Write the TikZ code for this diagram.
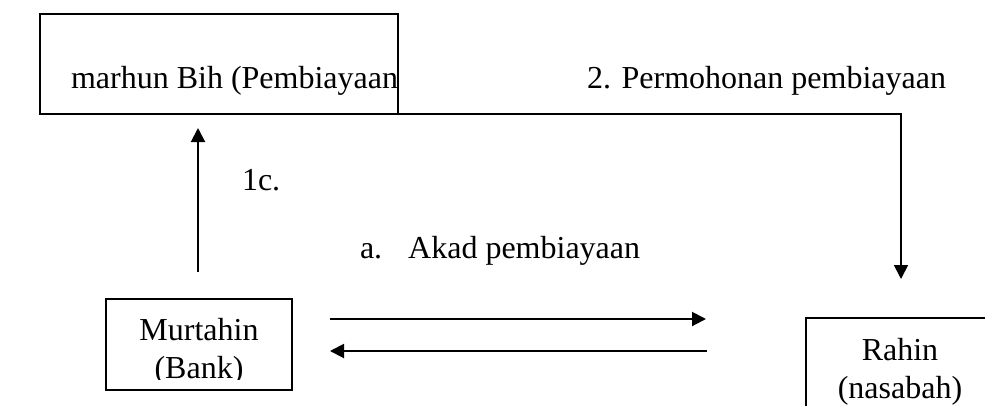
\documentclass[tikz,border=0pt]{standalone}
\usepackage{fontspec}
\setmainfont{Liberation Serif}
\usetikzlibrary{arrows.meta}
\begin{document}
\begin{tikzpicture}[x=0.75pt,y=-0.75pt,
  box/.style={draw, line width=1.5pt, inner sep=0pt, outer sep=0pt},
  txt/.style={inner sep=0pt, outer sep=0pt, font=\fontsize{24pt}{28.5pt}\selectfont},
  arr/.style={line width=1.5pt, -{Triangle[length=10.5pt,width=10.5pt]}},
  link/.style={line width=1.3pt, -{Triangle[length=10.5pt,width=10.5pt]}}]
\useasboundingbox (0,0) rectangle (985,405);
% boxes
\node[box, minimum width=268.5pt, minimum height=75pt] (bih) at (219,64) {};
\node[box, minimum width=139.5pt, minimum height=68.25pt] (mbox) at (199,344.5) {};
\node[box, minimum width=153pt, minimum height=91.5pt] (rbox) at (908,379) {};
% texts
\node[txt, anchor=base west] (bihtext) at (71,88) {marhun Bih (Pembiayaan};
\node[txt, anchor=base west] (permo) at (587,88) {2. Permohonan pembiayaan};
\node[txt, anchor=base west] (akad) at (360,258) {a.\hspace{19.5pt}Akad pembiayaan};
\node[txt, anchor=base west] (onec) at (242,190) {1c.};
\begin{scope}
  \clip (106,299) rectangle (292,379);
  \node[txt, anchor=base] (mur1) at (199,340) {Murtahin};
  \node[txt, anchor=base] (mur2) at (199,378) {(Bank)};
\end{scope}
\node[txt, anchor=base] (rah1) at (900,360) {Rahin};
\node[txt, anchor=base] (rah2) at (900,398) {(nasabah)};
% connectors
\coordinate (p2tip) at (901,279);
\draw[link] (bih.south east) -| (p2tip);
\coordinate (c1s) at (198,272);
\coordinate (c1t) at (198,128);
\draw[arr] (c1s) -- (c1t);
\coordinate (a1s) at (330,319);
\coordinate (a1t) at (706,319);
\draw[arr] (a1s) -- (a1t);
\coordinate (a2s) at (707,351);
\coordinate (a2t) at (330,351);
\draw[arr] (a2s) -- (a2t);
\end{tikzpicture}
\end{document}
